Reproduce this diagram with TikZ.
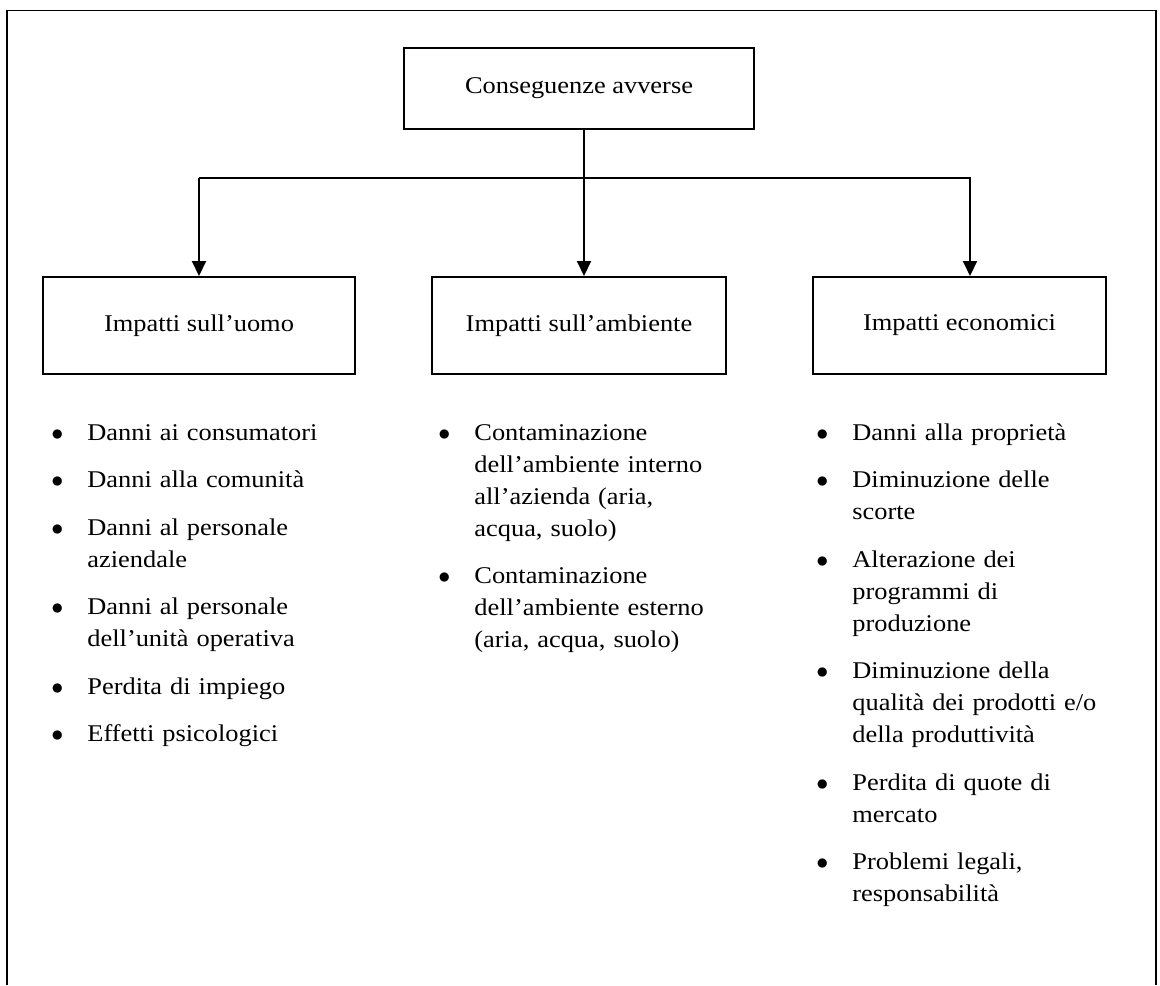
\documentclass[tikz,border=0pt]{standalone}
\usepackage{fontspec}
\setmainfont{Liberation Serif}[FakeStretch=1.1]
\usetikzlibrary{arrows.meta}
\usetikzlibrary{positioning}
\tikzset{
	>={Triangle[width=7pt,length=7.5pt]},
	every node/.style={align=center, font=\fontsize{12pt}{16pt}\selectfont},
	%
	block/.style={draw, line width=1pt, inner sep=0pt, minimum height=48.5pt},
	bullets/.style={inner sep=0pt, text width=170pt, align=left, anchor=north west},
	frame/.style={line width=0.8pt},
}
\newenvironment{punti}{\begin{list}{$\bullet$}{%
	\setlength{\leftmargin}{18pt}\setlength{\labelsep}{0pt}%
	\setlength{\labelwidth}{18pt}\setlength{\topsep}{0pt}%
	\setlength{\partopsep}{0pt}\setlength{\parsep}{0pt}%
	\setlength{\itemsep}{7.75pt}%
	\renewcommand{\makelabel}[1]{##1\hfil}}}{\end{list}}
\begin{document}
\begin{tikzpicture}[
			x=0.5pt, y=-0.5pt,
			arrow/.style={->, line width=1pt},
		]
		\useasboundingbox (0,0) rectangle (1160,985);
		\draw [frame] (7,985) -- (7,10.5) -- (1156,10.5) -- (1156,985);
		%
		\node (root) [block, minimum width=175pt, minimum height=40.5pt]
			at (579,88.5) {Conseguenze avverse};
		\node (ambiente) [block, minimum width=147pt, below=73pt of root]
			{Impatti sull'ambiente};
		\node (uomo) [block, minimum width=156pt, left=37.5pt of ambiente]
			{Impatti sull'uomo};
		\node (economici) [block, minimum width=146.5pt, right=42.5pt of ambiente]
			{Impatti economici};
		%
		\coordinate (fork) at (584,178);
		\draw [arrow] (root.south -| fork) -- (ambiente.north -| fork);
		\draw [arrow] (uomo.north |- fork) -- (uomo.north);
		\draw [arrow] (uomo.north |- fork) -| ([xshift=5.25pt]economici.north);
		%
		\node (lista-uomo) [bullets] at (51,407.6) {\begin{punti}
				\item\strut Danni ai consumatori
				\item Danni alla comunità
				\item Danni al personale\newline aziendale
				\item Danni al personale\newline dell'unità operativa
				\item Perdita di impiego
				\item Effetti psicologici
			\end{punti}};
		\node (lista-ambiente) [bullets] at (438,407.6) {\begin{punti}
				\item\strut Contaminazione\newline dell'ambiente interno\newline
					all'azienda (aria,\newline acqua, suolo)
				\item Contaminazione\newline dell'ambiente esterno\newline
					(aria, acqua, suolo)
			\end{punti}};
		\node (lista-economici) [bullets] at (816,407.6) {\begin{punti}
				\item\strut Danni alla proprietà
				\item Diminuzione delle\newline scorte
				\item Alterazione dei\newline programmi di\newline produzione
				\item Diminuzione della\newline qualità dei prodotti e/o\newline
					della produttività
				\item Perdita di quote di\newline mercato
				\item Problemi legali,\newline responsabilità
			\end{punti}};
	\end{tikzpicture}
\end{document}
